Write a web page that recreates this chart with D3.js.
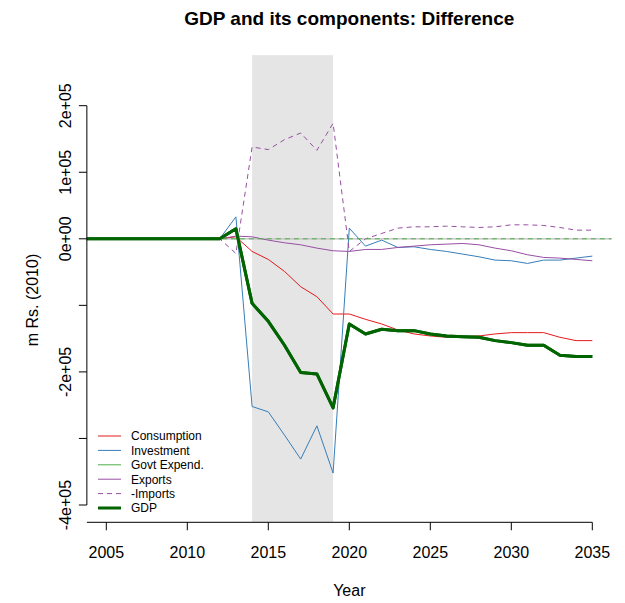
<!DOCTYPE html>
<html><head><meta charset="utf-8">
<script src="https://cdn.jsdelivr.net/npm/d3@7"></script>
<style>body{margin:0;background:#fff} svg{display:block} text{font-family:"Liberation Sans",Arial,sans-serif;fill:#000}</style>
</head><body><svg id="c" width="625" height="603"></svg>
<script>
const years = d3.range(2003, 2036);
const pre = new Array(10).fill(0); // 2003..2012
const consumption = pre.concat([3000,-19000,-31000,-49000,-72000,-87000,-113000,-113000,-121000,-128000,-137000,-143000,-146000,-148000,-147000,-146000,-143000,-141000,-141000,-141000,-148000,-153000,-153000]);
const investment = pre.concat([33000,-252000,-260000,-295000,-331000,-281000,-352000,16000,-11000,-2000,-13000,-12000,-16000,-19000,-23000,-27000,-32000,-33000,-37000,-32000,-32000,-29000,-26000]);
const govt = pre.concat(new Array(23).fill(0));
const exportsS = pre.concat([4000,3000,-2000,-6000,-9000,-14000,-18000,-19000,-16000,-16000,-13000,-11000,-9000,-8000,-7000,-9000,-14000,-18000,-24000,-28000,-29000,-31000,-33000]);
const imports = pre.concat([-22000,138000,134000,149000,159000,133000,173500,-19000,0,8000,16000,18000,18000,19000,18000,17000,18000,21000,21000,20000,17000,13000,13000]);
const gdp = pre.concat([15000,-97000,-124000,-160000,-201000,-203000,-254000,-128000,-143000,-136000,-138000,-138000,-143000,-146000,-147000,-148000,-153000,-156000,-160000,-160000,-175000,-177000,-177000]);
const xTicks = [2005,2010,2015,2020,2025,2030,2035];
const yTicks = [-400000,-300000,-200000,-100000,0,100000,200000];
const yTickLabels = ["-4e+05","","-2e+05","","0e+00","1e+05","2e+05"];
const shade = [2014, 2019];
const seriesNames = ["Consumption","Investment","Govt Expend.","Exports","-Imports","GDP"];

const svg = d3.select("#c");
const x = d3.scaleLinear().domain([2005,2035]).range([106.3,592.3]);
const y = d3.scaleLinear().domain([-400000,200000]).range([505,105.7]);
const xlo = 2005 - 0.04*30, xhi = 2035 + 0.04*30;
const ylo = -400000 - 0.04*650000, yhi = 250000 + 0.04*650000;
const L = x(xlo), R = x(xhi), T = y(yhi), B = y(ylo);

svg.append("defs").append("clipPath").attr("id","pc")
  .append("rect").attr("x",L).attr("y",T).attr("width",R-L).attr("height",B-T);

svg.append("rect").attr("x",x(shade[0])).attr("y",T).attr("width",x(shade[1])-x(shade[0])).attr("height",B-T).attr("fill","#e5e5e5");

const g = svg.append("g").attr("clip-path","url(#pc)");
g.append("line").attr("x1",L).attr("x2",R).attr("y1",y(0)).attr("y2",y(0)).attr("stroke","#bebebe").attr("stroke-width",1.2);

const line = d3.line().x((d,i)=>x(years[i])).y(d=>y(d));
const specs = [
  {data:consumption, color:"#e41a1c", w:1, dash:null},
  {data:investment, color:"#377eb8", w:1, dash:null},
  {data:govt, color:"#4daf4a", w:1, dash:null},
  {data:exportsS, color:"#984ea3", w:1, dash:null},
  {data:imports, color:"#984ea3", w:1, dash:"5,4"},
  {data:gdp, color:"#006400", w:3, dash:null}
];
specs.forEach((s,i)=>{
  if (i===2) return; // Govt Expend. is zero throughout: shown by dashed reference line below
  g.append("path").datum(s.data).attr("d",line).attr("fill","none")
   .attr("stroke",s.color).attr("stroke-width",s.w).attr("stroke-dasharray",s.dash)
   .attr("stroke-linejoin","round");
});
g.append("line").attr("x1",L).attr("x2",R).attr("y1",y(govt[govt.length-1])).attr("y2",y(govt[govt.length-1]))
  .attr("stroke","#4daf4a").attr("stroke-width",1).attr("stroke-dasharray","5,4");
// GDP redrawn on top of reference line
g.append("path").datum(gdp).attr("d",line).attr("fill","none").attr("stroke","#006400").attr("stroke-width",3).attr("stroke-linejoin","round");

// axes
const xa = svg.append("g");
xa.append("line").attr("x1",L).attr("x2",x(2035)).attr("y1",B).attr("y2",B).attr("stroke","#000");
xTicks.forEach(t=>{
  xa.append("line").attr("x1",x(t)).attr("x2",x(t)).attr("y1",B).attr("y2",B+8).attr("stroke","#000");
  xa.append("text").attr("x",x(t)).attr("y",B+36).attr("text-anchor","middle").attr("font-size",16).text(t);
});
const ya = svg.append("g");
ya.append("line").attr("x1",L).attr("x2",L).attr("y1",y(200000)).attr("y2",y(-400000)).attr("stroke","#000");
yTicks.forEach((t,i)=>{
  ya.append("line").attr("x1",L-8).attr("x2",L).attr("y1",y(t)).attr("y2",y(t)).attr("stroke","#000");
  if (yTickLabels[i]) ya.append("text").attr("transform",`translate(${L-16},${y(t)}) rotate(-90)`).attr("text-anchor","middle").attr("font-size",16).text(yTickLabels[i]);
});

svg.append("text").attr("x",(L+R)/2).attr("y",25).attr("text-anchor","middle").attr("font-size",19).attr("font-weight","bold").text("GDP and its components: Difference");
svg.append("text").attr("x",(L+R)/2).attr("y",596).attr("text-anchor","middle").attr("font-size",16).text("Year");
svg.append("text").attr("transform",`translate(38,300) rotate(-90)`).attr("text-anchor","middle").attr("font-size",16).text("m Rs. (2010)");

// legend
const lg = svg.append("g");
seriesNames.forEach((n,i)=>{
  const yy = 436 + i*14.4;
  lg.append("line").attr("x1",98).attr("x2",121).attr("y1",yy).attr("y2",yy)
    .attr("stroke",specs[i].color).attr("stroke-width",specs[i].w).attr("stroke-dasharray",specs[i].dash);
  lg.append("text").attr("x",131).attr("y",yy+4.3).attr("font-size",12).text(n);
});
</script></body></html>
